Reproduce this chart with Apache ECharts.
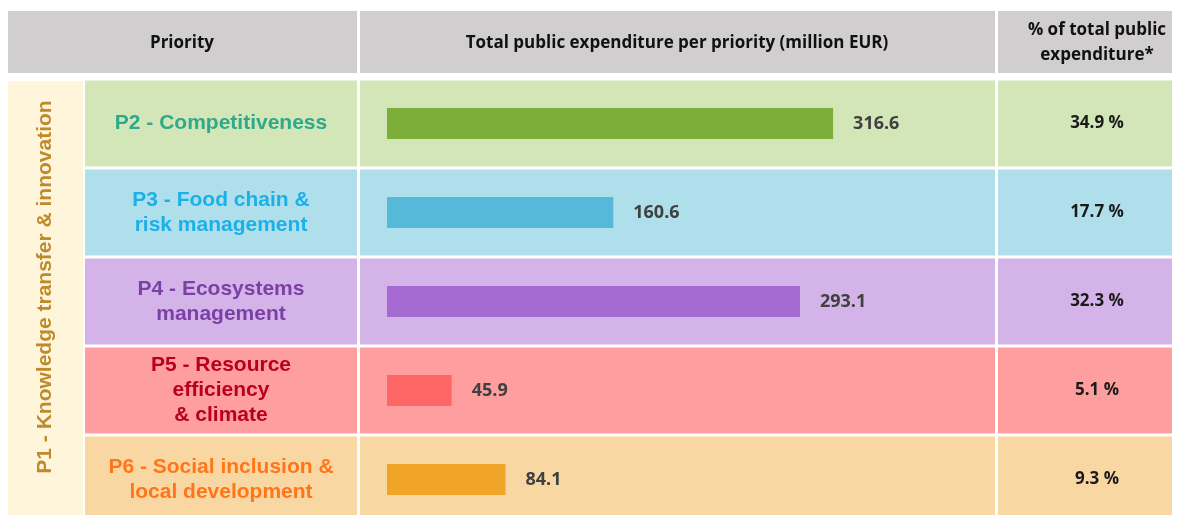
<!DOCTYPE html>
<html>
<head>
<meta charset="utf-8">
<style>
  html, body { margin: 0; padding: 0; background: #ffffff; overflow: hidden; }
  #chart { width: 1182px; height: 540px; }
</style>
<script src="https://cdn.jsdelivr.net/npm/echarts@6/dist/echarts.min.js"></script>
</head>
<body>
<div id="chart"></div>
<script>
// ---- data ----
var categories = [
  'P2 - Competitiveness',
  'P3 - Food chain &\nrisk management',
  'P4 - Ecosystems\nmanagement',
  'P5 - Resource\nefficiency\n& climate',
  'P6 - Social inclusion &\nlocal development'
];
var expenditure = [316.6, 160.6, 293.1, 45.9, 84.1];   // million EUR
var shares = [34.9, 17.7, 32.3, 5.1, 9.3];              // % of total public expenditure
var headerLabels = ['Priority', 'Total public expenditure per priority (million EUR)', '% of total public\nexpenditure*'];
var sideLabel = 'P1 - Knowledge transfer & innovation';

// ---- styles ----
var rowBg = ['#D3E6B8', '#AFDFEB', '#D4B4E8', '#FF9E9F', '#F9D7A3'];
var barColors = ['#7DAE3A', '#56B9D9', '#A66BD3', '#FF6767', '#F0A428'];
var labelColors = ['#2EA98A', '#1BB0EA', '#7B3FA5', '#B8001C', '#FF7518'];

var chart = echarts.init(document.getElementById('chart'), null, { renderer: 'canvas' });

var TOP = 79, HEIGHT = 445;
function hiddenCat(gi) {
  return { type: 'category', gridIndex: gi, data: categories, inverse: true, show: false,
           axisLine: { show: false }, axisTick: { show: false }, axisLabel: { show: false } };
}
function hiddenVal(gi, max) {
  return { type: 'value', gridIndex: gi, min: 0, max: max, show: false, splitLine: { show: false } };
}

var bgOnes = categories.map(function () { return 1; });
var headFont = 'bold 17px "Open Sans"';

var option = {
  animation: false,
  backgroundColor: '#ffffff',
  grid: [
    { left: 85, width: 272, top: TOP, height: HEIGHT },   // priority labels
    { left: 360, width: 635, top: TOP, height: HEIGHT },  // bar column background
    { left: 387, width: 563.6, top: TOP, height: HEIGHT },// data bars
    { left: 998, width: 174, top: TOP, height: HEIGHT }   // share column
  ],
  xAxis: [hiddenVal(0, 1), hiddenVal(1, 1), hiddenVal(2, 400), hiddenVal(3, 1)],
  yAxis: [hiddenCat(0), hiddenCat(1), hiddenCat(2), hiddenCat(3)],
  series: [
    {
      type: 'bar', xAxisIndex: 0, yAxisIndex: 0, barWidth: 86, silent: true,
      data: bgOnes.map(function (v, i) {
        return {
          value: v,
          itemStyle: { color: rowBg[i] },
          label: { color: labelColors[i] }
        };
      }),
      label: {
        show: true, position: 'inside',
        formatter: function (p) { return categories[p.dataIndex]; },
        fontFamily: 'Liberation Sans', fontWeight: 'bold', fontSize: 21, lineHeight: 25,
        align: 'center'
      }
    },
    {
      type: 'bar', xAxisIndex: 1, yAxisIndex: 1, barWidth: 86, silent: true,
      data: bgOnes.map(function (v, i) { return { value: v, itemStyle: { color: rowBg[i] } }; })
    },
    {
      type: 'bar', xAxisIndex: 2, yAxisIndex: 2, barWidth: 31, z: 5,
      data: expenditure.map(function (v, i) { return { value: v, itemStyle: { color: barColors[i] } }; }),
      label: {
        show: true, position: 'right', distance: 20,
        formatter: function (p) { return p.value.toFixed(1); },
        color: '#404040', fontFamily: 'Open Sans', fontWeight: 'bold', fontSize: 18
      }
    },
    {
      type: 'bar', xAxisIndex: 3, yAxisIndex: 3, barWidth: 86, silent: true,
      data: bgOnes.map(function (v, i) { return { value: v, itemStyle: { color: rowBg[i] } }; }),
      label: {
        show: true, position: 'inside', offset: [12, 0],
        formatter: function (p) { return shares[p.dataIndex].toFixed(1) + ' %'; },
        color: '#1a1a1a', fontFamily: 'Open Sans', fontWeight: 'bold', fontSize: 17
      }
    }
  ],
  graphic: [
    { type: 'rect', shape: { x: 8, y: 11, width: 349, height: 62 }, style: { fill: '#D0CECE' } },
    { type: 'rect', shape: { x: 360, y: 11, width: 635, height: 62 }, style: { fill: '#D0CECE' } },
    { type: 'rect', shape: { x: 998, y: 11, width: 174, height: 62 }, style: { fill: '#D0CECE' } },
    { type: 'text', x: 182, y: 43, style: { text: headerLabels[0], fill: '#111111',
        font: headFont, textAlign: 'center', textVerticalAlign: 'middle', align: 'center', verticalAlign: 'middle' } },
    { type: 'text', x: 677, y: 43, style: { text: headerLabels[1], fill: '#111111',
        font: headFont, textAlign: 'center', textVerticalAlign: 'middle', align: 'center', verticalAlign: 'middle' } },
    { type: 'text', x: 1097, y: 43, style: { text: headerLabels[2], fill: '#111111', lineHeight: 25,
        font: headFont, textAlign: 'center', textVerticalAlign: 'middle', align: 'center', verticalAlign: 'middle' } },
    { type: 'rect', shape: { x: 8, y: 81, width: 75, height: 460 }, style: { fill: '#FFF5DA' } },
    { type: 'text', x: 45, y: 287, rotation: Math.PI / 2, style: { text: sideLabel, fill: '#BF8A2C',
        font: 'bold 21px "Liberation Sans"', textAlign: 'center', textVerticalAlign: 'middle', align: 'center', verticalAlign: 'middle' } }
  ]
};
chart.setOption(option);
</script>
</body>
</html>
